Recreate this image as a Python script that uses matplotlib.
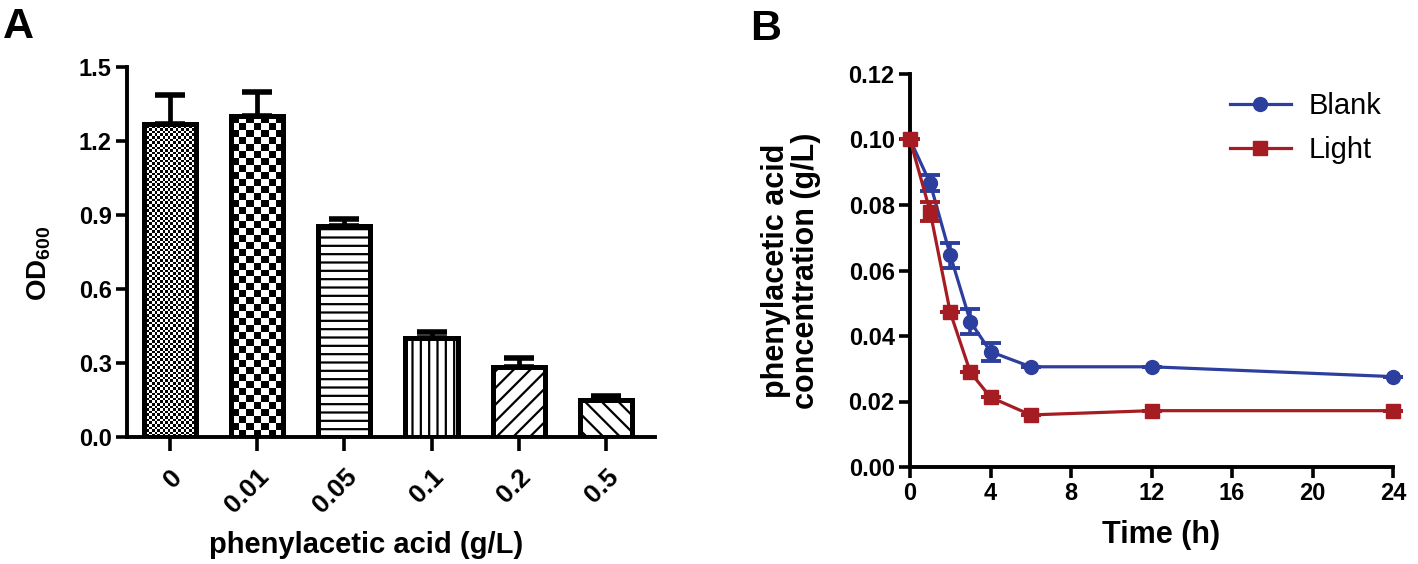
import numpy as np
import matplotlib
matplotlib.use("Agg")
import matplotlib.pyplot as plt

plt.rcParams['font.family'] = ['Liberation Sans', 'DejaVu Sans']
plt.rcParams['font.weight'] = 'bold'
plt.rcParams['mathtext.fontset'] = 'custom'
plt.rcParams['mathtext.rm'] = 'Liberation Sans:bold'
plt.rcParams['mathtext.bf'] = 'Liberation Sans:bold'
plt.rcParams['hatch.linewidth'] = 1.6

# panel A data
conc_labels = ['0', '0.01', '0.05', '0.1', '0.2', '0.5']
od600 = [1.27, 1.30, 0.855, 0.40, 0.285, 0.148]
od600_err = [0.115, 0.10, 0.03, 0.027, 0.035, 0.02]
bar_hatches = ['checker_fine', 'checker_big', '--', '||', '//', '\\\\']

# panel B data
time_h = [0, 1, 2, 3, 4, 6, 12, 24]
blank = [0.100, 0.0867, 0.0647, 0.0444, 0.0352, 0.0306, 0.0306, 0.0276]
blank_err = [0.0, 0.0025, 0.0038, 0.0037, 0.0028, 0.0, 0.0, 0.0]
light = [0.100, 0.078, 0.0472, 0.0289, 0.0213, 0.0159, 0.0172, 0.0172]
light_err = [0.0, 0.0029, 0.0, 0.0, 0.0, 0.0, 0.0, 0.0]

BLUE = '#2c3f9e'
RED = '#a51d23'

fig = plt.figure(figsize=(14.18, 5.64), dpi=100)
W, H = 1418, 564


def px_axes(left, top, right, bottom):
    return fig.add_axes([left / W, 1 - bottom / H, (right - left) / W, (bottom - top) / H])


def style_axes(ax):
    for s in ['top', 'right']:
        ax.spines[s].set_visible(False)
    for s in ['left', 'bottom']:
        ax.spines[s].set_linewidth(2.8)
    ax.tick_params(width=2.6, length=8, labelsize=17, direction='out', pad=3)
    for lab in ax.get_xticklabels() + ax.get_yticklabels():
        lab.set_fontweight('bold')


# ---------------- panel A ----------------
axA = px_axes(127, 67, 655, 437)
x = np.arange(len(od600))
axA.set_xlim(-0.49, 5.56)
axA.set_ylim(0, 1.5)
bars = axA.bar(x, od600, width=0.6, color='white', edgecolor='black',
               linewidth=3.6, zorder=3)
axA.errorbar(x, od600, yerr=[np.zeros(len(od600)), od600_err], fmt='none',
             ecolor='black', elinewidth=3.4, capsize=10.5, capthick=4, zorder=2)

fig.canvas.draw()
px_per_x = axA.transData.transform((1, 0))[0] - axA.transData.transform((0, 0))[0]
px_per_y = axA.transData.transform((0, 0))[1] - axA.transData.transform((0, 1))[1]
for b, h in zip(bars, bar_hatches):
    if h.startswith('checker'):
        cell = 2.6 if h == 'checker_fine' else 7.0
        bw, bh = b.get_width(), b.get_height()
        nx = max(1, int(round(bw * px_per_x / cell)))
        ny = max(1, int(round(bh * abs(px_per_y) / cell)))
        yy, xx = np.indices((ny, nx))
        board = (xx + yy) % 2
        im = axA.imshow(board, cmap='gray', interpolation='nearest', aspect='auto',
                        extent=(b.get_x(), b.get_x() + bw, 0, bh), zorder=2.5)
        im.set_clip_path(b)
        b.set_facecolor('none')
    else:
        b.set_hatch(h)
axA.set_xlim(-0.49, 5.56)
axA.set_ylim(0, 1.5)

axA.set_xticks(x)
axA.set_xticklabels(conc_labels, rotation=45, ha='right', rotation_mode='anchor')
axA.set_yticks([0, 0.3, 0.6, 0.9, 1.2, 1.5])
axA.set_yticklabels(['0.0', '0.3', '0.6', '0.9', '1.2', '1.5'])
style_axes(axA)
axA.tick_params(axis='x', length=10, pad=10, labelsize=19)
axA.set_xlabel('phenylacetic acid (g/L)', fontsize=21, fontweight='bold')
axA.xaxis.set_label_coords(0.453, -0.255)
axA.set_ylabel('OD$_{600}$', fontsize=20, fontweight='bold')
axA.yaxis.set_label_coords(-0.14, 0.47)
fig.text(3 / W, 1 - 38 / H, 'A', fontsize=31, fontweight='bold', va='baseline')

# ---------------- panel B ----------------
axB = px_axes(910, 74, 1393, 467)
axB.set_xlim(0, 24)
axB.set_ylim(0, 0.12)
axB.errorbar(time_h, blank, yerr=blank_err, color=BLUE, marker='o', markersize=10,
             linewidth=2.3, elinewidth=2.6, capsize=7, capthick=2.8, label='Blank',
             clip_on=False, zorder=3)
axB.errorbar(time_h, light, yerr=light_err, color=RED, marker='s', markersize=10,
             linewidth=2.3, elinewidth=2.6, capsize=7, capthick=2.8, label='Light',
             clip_on=False, zorder=4)
axB.set_xticks([0, 4, 8, 12, 16, 20, 24])
axB.set_yticks([0, 0.02, 0.04, 0.06, 0.08, 0.10, 0.12])
axB.set_yticklabels(['0.00', '0.02', '0.04', '0.06', '0.08', '0.10', '0.12'])
style_axes(axB)
axB.set_xlabel('Time (h)', fontsize=22, fontweight='bold')
axB.xaxis.set_label_coords(0.52, -0.135)
axB.set_ylabel('phenylacetic acid\nconcentration (g/L)', fontsize=22,
               fontweight='bold', linespacing=1.0)
axB.yaxis.set_label_coords(-0.185, 0.5)

handles, labels = axB.get_legend_handles_labels()
handles = [h[0] for h in handles]
leg = axB.legend(handles, labels, loc='upper right', bbox_to_anchor=(1.03, 1.02),
                 frameon=False, prop={'size': 21, 'weight': 'normal'},
                 handlelength=2.1, handletextpad=0.6, labelspacing=0.55)
fig.text(750 / W, 1 - 40 / H, 'B', fontsize=31, fontweight='bold', va='baseline')

fig.savefig('out.png', dpi=100)
